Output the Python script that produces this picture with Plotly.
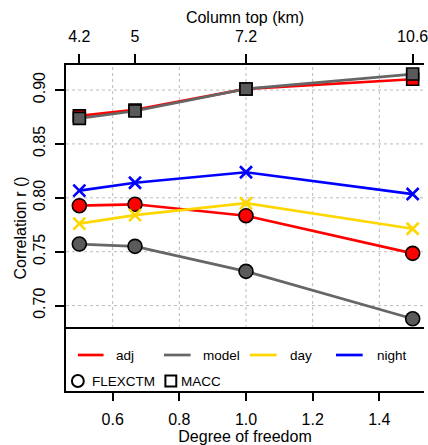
import plotly.graph_objects as go

# Degrees of freedom and the matching column tops
dof = [0.5, 0.667, 1.0, 1.5]
column_top_labels = ["4.2", "5", "7.2", "10.6"]

# Correlation r for each configuration
adj_flexctm = [0.7927, 0.7940, 0.7834, 0.7485]
adj_macc = [0.8760, 0.8815, 0.9010, 0.9100]
model_flexctm = [0.7571, 0.7550, 0.7318, 0.6878]
model_macc = [0.8737, 0.8805, 0.9010, 0.9148]
day = [0.7760, 0.7840, 0.7950, 0.7713]
night = [0.8066, 0.8140, 0.8237, 0.8035]

x_ticks = [0.6, 0.8, 1.0, 1.2, 1.4]
y_ticks = [0.70, 0.75, 0.80, 0.85, 0.90]

RED = "#FF0000"
GREY = "#666666"
GREY_FILL = "#5a5a5a"
GOLD = "#FFD700"
BLUE = "#0000FF"
FONT = "Liberation Sans, Arial, sans-serif"

W, H = 428, 445
ML, MT, MB, MR = 66, 65, 54, 0
X_RANGE = [0.46, 1.534]
Y_RANGE = [0.6208, 0.9232]
Y_SPLIT = 0.6792  # bottom of the data panel, legend panel below

fig = go.Figure()


def add_series(y, color, symbol, fill, size):
    fig.add_trace(go.Scatter(
        x=dof, y=y, mode="lines+markers",
        line=dict(color=color, width=2.7),
        marker=dict(symbol=symbol, size=size, color=fill,
                    line=dict(color="black", width=1.6)),
        showlegend=False, cliponaxis=False,
    ))


def add_cross_series(y, color):
    fig.add_trace(go.Scatter(
        x=dof, y=y, mode="lines+markers",
        line=dict(color=color, width=2.7),
        marker=dict(symbol="x-thin", size=12,
                    line=dict(color=color, width=2.6)),
        showlegend=False, cliponaxis=False,
    ))


add_series(adj_flexctm, RED, "circle", RED, 14)
add_series(adj_macc, RED, "square", RED, 12)
add_series(model_flexctm, GREY, "circle", GREY_FILL, 14)
add_series(model_macc, GREY, "square", GREY_FILL, 12)
add_cross_series(day, GOLD)
add_cross_series(night, BLUE)

# invisible trace to activate the top axis
fig.add_trace(go.Scatter(x=dof, y=[None] * len(dof), xaxis="x2",
                         showlegend=False, hoverinfo="skip"))

shapes = []
# dotted grid restricted to the data panel
for xv in x_ticks:
    shapes.append(dict(type="line", xref="x", yref="y", x0=xv, x1=xv,
                       y0=Y_SPLIT, y1=Y_RANGE[1], layer="below",
                       line=dict(color="#BBBBBB", width=1, dash="dot")))
for yv in y_ticks:
    shapes.append(dict(type="line", xref="x", yref="y", x0=X_RANGE[0], x1=X_RANGE[1],
                       y0=yv, y1=yv, layer="below",
                       line=dict(color="#BBBBBB", width=1, dash="dot")))
# separator between data and legend panels
shapes.append(dict(type="line", xref="paper", yref="y", x0=0, x1=1,
                   y0=Y_SPLIT, y1=Y_SPLIT, line=dict(color="black", width=2)))

PW = W - ML - MR
PH = H - MT - MB


def px_x(px):
    return (px - ML) / PW


def px_y(py):
    return (H - MB - py) / PH


annotations = []
row1, row2 = 355, 381
legend_lines = [("adj", RED, 78, 104, 115), ("model", GREY, 165, 192, 203),
                ("day", GOLD, 252, 279, 290), ("night", BLUE, 339, 366, 378)]
for label, color, a, b, t in legend_lines:
    shapes.append(dict(type="line", xref="paper", yref="paper",
                       x0=px_x(a), x1=px_x(b), y0=px_y(row1), y1=px_y(row1),
                       line=dict(color=color, width=2.7)))
    annotations.append(dict(text=label, xref="paper", yref="paper",
                            x=px_x(t), y=px_y(row1), xanchor="left", yanchor="middle",
                            showarrow=False, font=dict(size=13.5, color="black", family=FONT)))

# symbol key
shapes.append(dict(type="circle", xref="paper", yref="paper",
                   x0=px_x(72), x1=px_x(84), y0=px_y(387), y1=px_y(375),
                   line=dict(color="black", width=2)))
shapes.append(dict(type="rect", xref="paper", yref="paper",
                   x0=px_x(166.5), x1=px_x(177.5), y0=px_y(386.5), y1=px_y(375.5),
                   line=dict(color="black", width=2)))
annotations.append(dict(text="FLEXCTM", xref="paper", yref="paper",
                        x=px_x(90), y=px_y(row2), xanchor="left", yanchor="middle",
                        showarrow=False, font=dict(size=13.5, color="black", family=FONT)))
annotations.append(dict(text="MACC", xref="paper", yref="paper",
                        x=px_x(180), y=px_y(row2), xanchor="left", yanchor="middle",
                        showarrow=False, font=dict(size=13.5, color="black", family=FONT)))

axis_font = dict(size=16, color="black", family=FONT)

fig.update_layout(
    width=W, height=H,
    margin=dict(l=ML, r=MR, t=MT, b=MB, pad=0),
    plot_bgcolor="white", paper_bgcolor="white",
    font=axis_font,
    shapes=shapes, annotations=annotations,
    xaxis=dict(range=X_RANGE, tickvals=x_ticks, ticktext=[f"{v:.1f}" for v in x_ticks],
               showgrid=False, zeroline=False, showline=True, linecolor="black", linewidth=2,
               ticks="outside", ticklen=8, tickwidth=2, tickcolor="black",
               ticklabelstandoff=5, ticklabeloverflow="allow",
               title=dict(text="Degree of freedom", standoff=2, font=axis_font),
               tickfont=axis_font),
    xaxis2=dict(range=X_RANGE, overlaying="x", side="top", tickvals=dof,
                ticktext=column_top_labels, showgrid=False, zeroline=False,
                showline=True, linecolor="black", linewidth=2,
                ticks="outside", ticklen=9, tickwidth=2, tickcolor="black",
                ticklabelstandoff=6, ticklabeloverflow="allow",
                title=dict(text="Column top (km)", standoff=0, font=axis_font),
                tickfont=axis_font),
    yaxis=dict(range=Y_RANGE, tickvals=y_ticks, ticktext=[f"{v:.2f}" for v in y_ticks],
               tickangle=-90, showgrid=False, zeroline=False, showline=True,
               linecolor="black", linewidth=2, ticks="outside", ticklen=9, tickwidth=2,
               tickcolor="black", ticklabelstandoff=4,
               title=dict(text="Correlation r ()", standoff=0, font=axis_font),
               tickfont=axis_font),
)

fig.write_html("out.html")
